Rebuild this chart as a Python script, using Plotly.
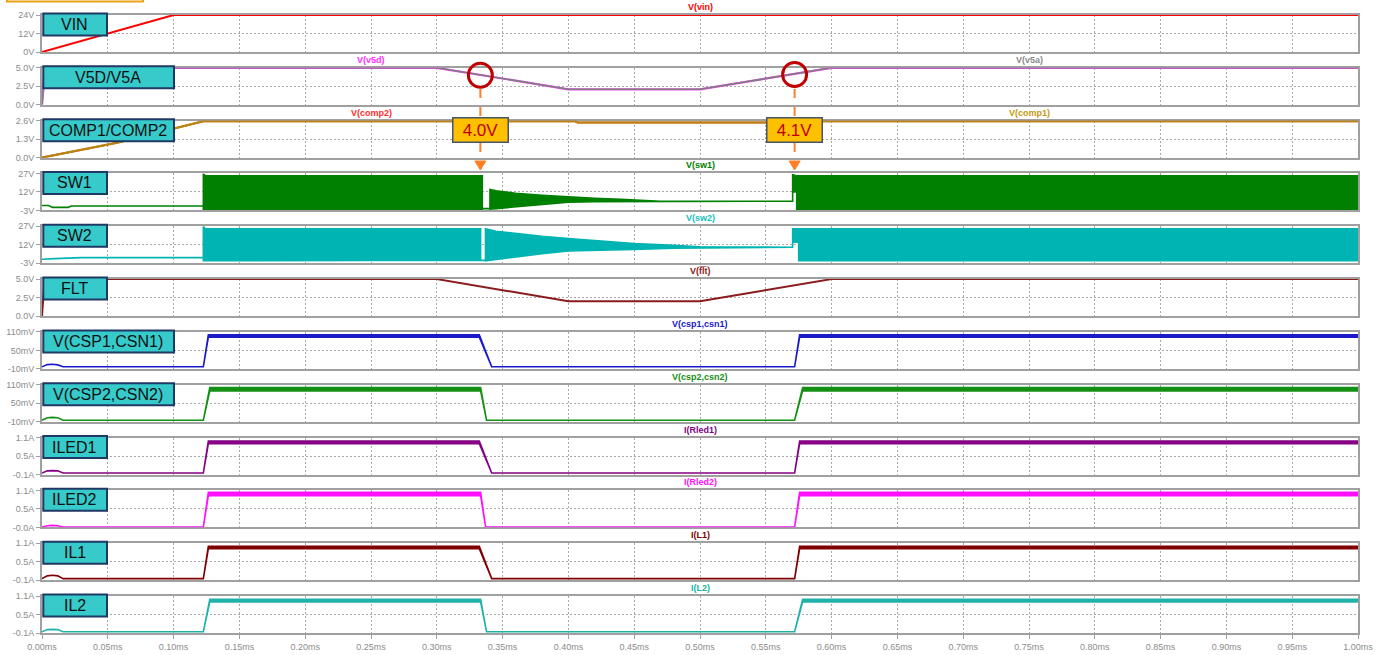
import plotly.graph_objects as go

# ---------------- data (time in ms) ----------------
vin_t = [0.0, 0.1, 1.0]
vin_v = [0.0, 24.0, 24.0]

v5d_t = [0.0, 0.002, 0.30, 0.40, 0.50, 0.60, 1.0]
v5d_v = [0.0, 5.0, 5.0, 2.1, 2.1, 5.0, 5.0]
v5a_t = [0.0, 0.003, 0.30, 0.40, 0.50, 0.60, 1.0]
v5a_v = [0.0, 5.0, 5.0, 2.1, 2.1, 5.0, 5.0]

comp_t = [0.0, 0.057, 0.1225, 0.405, 0.407, 0.57, 0.572, 1.0]
comp1_v = [0.0, 1.05, 2.55, 2.55, 2.47, 2.47, 2.55, 2.55]
comp2_v = [0.0, 1.05, 2.55, 2.55, 2.47, 2.47, 2.55, 2.55]

# switching nodes: upper / lower envelope of the switching band
sw1_t = [0.0, 0.005, 0.008, 0.02, 0.022, 0.1226, 0.1226, 0.124, 0.3346, 0.3346, 0.3404, 0.3404,
         0.345, 0.36, 0.38, 0.40, 0.42, 0.44, 0.46, 0.47, 0.5704, 0.5704, 0.5735, 0.5735, 1.0]
sw1_hi = [1.0, 1.0, -0.5, -0.5, 0.6, 0.6, 27.0, 25.0, 25.0, -1.5, -1.5, 14.0,
          13.0, 11.0, 9.3, 7.8, 6.8, 6.0, 5.2, 4.5, 4.5, 26.0, 25.0, 25.0, 25.0]
sw1_lo = [1.0, 1.0, -0.5, -0.5, 0.6, 0.6, -2.0, -2.0, -2.0, -1.5, -1.5, -2.0,
          -1.5, 0.0, 2.0, 3.7, 4.0, 4.2, 4.3, 4.5, 4.5, 12.0, 12.0, -2.0, -2.0]

sw2_t = [0.0, 0.005, 0.01, 0.03, 0.1226, 0.1226, 0.124, 0.3333, 0.3333, 0.337, 0.337,
         0.345, 0.36, 0.38, 0.40, 0.42, 0.45, 0.48, 0.50, 0.5704, 0.5704, 0.575, 0.575, 1.0]
sw2_hi = [0.3, 0.3, 0.8, 1.6, 1.6, 27.0, 25.0, 25.0, -0.5, -0.5, 25.0,
          23.0, 21.0, 18.8, 17.0, 15.5, 13.0, 11.6, 10.3, 10.0, 25.0, 25.0, 25.0, 25.0]
sw2_lo = [0.3, 0.3, 0.8, 1.6, 1.6, -1.0, -1.0, -1.0, -0.5, -0.5, -1.0,
          0.0, 2.0, 4.8, 6.9, 7.8, 8.3, 9.3, 9.8, 10.0, 14.0, 14.0, -1.0, -1.0]

flt_t = [0.0, 0.002, 0.30, 0.40, 0.50, 0.60, 1.0]
flt_v = [0.0, 5.0, 5.0, 2.0, 2.0, 5.0, 5.0]

csp1_t = [0.0, 0.004, 0.008, 0.012, 0.016, 0.1226, 0.1264, 0.3323, 0.3417, 0.5719, 0.5757, 1.0]
csp1_hi = [-3, 4, 5, 3, -3, -3, 101, 101, -3, -3, 101, 101]
csp1_lo = [-3, 4, 5, 3, -3, -3, 93, 93, -3, -3, 93, 93]

csp2_t = [0.0, 0.004, 0.008, 0.012, 0.016, 0.1226, 0.1275, 0.3333, 0.3378, 0.5719, 0.578, 1.0]
csp2_hi = [-5, 3, 4, 3, -5, -5, 101, 101, -5, -5, 101, 101]
csp2_lo = [-5, 3, 4, 3, -5, -5, 90, 90, -5, -5, 90, 90]

iled1_t = [0.0, 0.004, 0.008, 0.012, 0.016, 0.1226, 0.1264, 0.3323, 0.3417, 0.5719, 0.5757, 1.0]
iled1_hi = [-0.05, 0.02, 0.03, 0.02, -0.05, -0.05, 0.99, 0.99, -0.05, -0.05, 0.99, 0.99]
iled1_lo = [-0.05, 0.02, 0.03, 0.02, -0.05, -0.05, 0.9, 0.9, -0.05, -0.05, 0.9, 0.9]

iled2_t = [0.0, 0.004, 0.008, 0.012, 0.016, 0.1226, 0.1264, 0.3333, 0.3371, 0.5719, 0.5757, 1.0]
iled2_hi = [-0.04, 0.0, 0.01, 0.0, -0.04, -0.04, 0.99, 0.99, -0.04, -0.04, 0.99, 0.99]
iled2_lo = [-0.04, 0.0, 0.01, 0.0, -0.04, -0.04, 0.89, 0.89, -0.04, -0.04, 0.89, 0.89]

il1_t = [0.0, 0.004, 0.008, 0.012, 0.016, 0.1226, 0.1264, 0.3323, 0.3417, 0.5719, 0.5757, 1.0]
il1_hi = [-0.05, 0.04, 0.06, 0.04, -0.05, -0.05, 1.0, 1.0, -0.05, -0.05, 1.0, 1.0]
il1_lo = [-0.05, 0.04, 0.06, 0.04, -0.05, -0.05, 0.92, 0.92, -0.05, -0.05, 0.92, 0.92]

il2_t = [0.0, 0.004, 0.008, 0.012, 0.016, 0.1226, 0.1275, 0.3333, 0.3378, 0.5719, 0.578, 1.0]
il2_hi = [-0.06, 0.01, 0.02, 0.01, -0.06, -0.06, 0.99, 0.99, -0.06, -0.06, 0.99, 0.99]
il2_lo = [-0.06, 0.01, 0.02, 0.01, -0.06, -0.06, 0.91, 0.91, -0.06, -0.06, 0.91, 0.91]

# threshold markers on V5D
mark_t = [0.3331, 0.5719]
mark_v = [4.0, 4.1]

# tick labels
x_tick_vals = [round(0.05 * k, 2) for k in range(21)]
x_tick_text = ["%.2fms" % v for v in x_tick_vals]
vin_ticks = ([0, 12, 24], ["0V", "12V", "24V"])
v5_ticks = ([0, 2.5, 5], ["0.0V", "2.5V", "5.0V"])
comp_ticks = ([0, 1.3, 2.6], ["0.0V", "1.3V", "2.6V"])
sw_ticks = ([-3, 12, 27], ["-3V", "12V", "27V"])
csp_ticks = ([-10, 50, 110], ["-10mV", "50mV", "110mV"])
ia_ticks = ([-0.1, 0.5, 1.1], ["-0.1A", "0.5A", "1.1A"])
ib_ticks = ([-0.05, 0.5, 1.05], ["-0.0A", "0.5A", "1.1A"])

panel_names = ["VIN", "V5D/V5A", "COMP1/COMP2", "SW1", "SW2", "FLT", "V(CSP1,CSN1)",
               "V(CSP2,CSN2)", "ILED1", "ILED2", "IL1", "IL2"]
panel_ticks = [vin_ticks, v5_ticks, comp_ticks, sw_ticks, sw_ticks, v5_ticks, csp_ticks,
               csp_ticks, ia_ticks, ib_ticks, ia_ticks, ia_ticks]
wide_box = [False, True, True, False, False, False, True, True, False, False, False, False]

# ---------------- geometry ----------------
W, H = 1379, 655
PLOT_TOP = 15
ML, MR, MT, MB = 42, 21, PLOT_TOP, 22
PH = H - MT - MB
PW = W - ML - MR
PANEL_H = 37
STEP = (PH - PANEL_H) / 11


def dom(i):
    y1 = 1 - i * STEP / PH
    return [y1 - PANEL_H / PH, y1]


def py(pix):
    return 1 - (pix - PLOT_TOP) / PH


def ax(i):
    return ("x", "y") if i == 0 else ("x%d" % (i + 1), "y%d" % (i + 1))


fig = go.Figure()


def add_line(i, t, v, color, width=2.0):
    xa, ya = ax(i)
    fig.add_trace(go.Scatter(x=t, y=v, mode="lines", line=dict(color=color, width=width),
                             xaxis=xa, yaxis=ya, showlegend=False, hoverinfo="skip"))


def add_band(i, t, hi, lo, color, width=1.6):
    xa, ya = ax(i)
    xs = list(t) + list(t)[::-1]
    ys = list(hi) + list(lo)[::-1]
    fig.add_trace(go.Scatter(x=xs, y=ys, mode="lines", fill="toself", fillcolor=color,
                             line=dict(color=color, width=width),
                             xaxis=xa, yaxis=ya, showlegend=False, hoverinfo="skip"))


add_line(0, vin_t, vin_v, "#FF0000")
add_line(1, v5d_t, v5d_v, "#FF40FF", 2.2)
add_line(1, v5a_t, v5a_v, "#7E7E7E", 1.6)
add_line(2, comp_t, comp2_v, "#E05020", 2.0)
add_line(2, comp_t, comp1_v, "#B8860B", 2.0)
add_band(3, sw1_t, sw1_hi, sw1_lo, "#008000")
add_band(4, sw2_t, sw2_hi, sw2_lo, "#00B4B4")
add_line(5, flt_t, flt_v, "#8B1A1A")
add_band(6, csp1_t, csp1_hi, csp1_lo, "#1A1AC8")
add_band(7, csp2_t, csp2_hi, csp2_lo, "#159015")
add_band(8, iled1_t, iled1_hi, iled1_lo, "#850085")
add_band(9, iled2_t, iled2_hi, iled2_lo, "#FF10FF")
add_band(10, il1_t, il1_hi, il1_lo, "#800000")
add_band(11, il2_t, il2_hi, il2_lo, "#20B2AA")

# circles marking the thresholds
fig.add_trace(go.Scatter(x=mark_t, y=mark_v, mode="markers", xaxis="x2", yaxis="y2",
                         marker=dict(symbol="circle-open", size=24,
                                     line=dict(width=3, color="#C00000"), color="#C00000"),
                         cliponaxis=False, showlegend=False, hoverinfo="skip"))

# ---------------- axes ----------------
grid = dict(showgrid=True, gridcolor="#A8A8A8", gridwidth=1, griddash="2px,2px")
frame = dict(showline=True, mirror=True, linecolor="#A0A0A0", linewidth=2, zeroline=False,
             layer="below traces", automargin=False)
tickfont = dict(family="Liberation Sans", size=9, color="#8C8C8C")

layout = {}
for i in range(12):
    n = "" if i == 0 else str(i + 1)
    last = i == 11
    layout["xaxis" + n] = dict(domain=[0, 1], anchor="y" + n, range=[0, 1.0],
                               tickvals=x_tick_vals, ticktext=x_tick_text,
                               showticklabels=last, ticks="outside" if last else "",
                               ticklen=4, tickcolor="#A0A0A0", tickfont=tickfont,
                               **grid, **frame)
    tv, tt = panel_ticks[i]
    layout["yaxis" + n] = dict(domain=dom(i), anchor="x" + n, range=[tv[0], tv[-1]],
                               tickvals=tv, ticktext=tt, ticks="outside", ticklen=4,
                               tickcolor="#A0A0A0", tickfont=tickfont, **grid, **frame)

shapes = []
annotations = []

# name boxes
for i, name in enumerate(panel_names):
    n = "" if i == 0 else str(i + 1)
    wpx = 132 if wide_box[i] else 65
    y1 = 1 + 1.5 / PANEL_H
    y0 = y1 - 22 / PANEL_H
    shapes.append(dict(type="rect", xref="paper", yref="y%s domain" % n,
                       x0=0.001, x1=wpx / PW, y0=y0, y1=y1,
                       fillcolor="#36CACA", line=dict(color="#1F3864", width=2), layer="above"))
    annotations.append(dict(xref="paper", yref="y%s domain" % n, x=(wpx / 2) / PW,
                            y=(y0 + y1) / 2, text=name, showarrow=False,
                            font=dict(family="Liberation Sans", size=16, color="#111111"),
                            xanchor="center", yanchor="middle"))

# trace names above panels
trace_labels = [
    (0, "V(vin)", 0.5, "#FF0000"),
    (1, "V(v5d)", 0.25, "#FF30FF"), (1, "V(v5a)", 0.75, "#8A8A8A"),
    (2, "V(comp2)", 0.25, "#FF3030"), (2, "V(comp1)", 0.75, "#C49A10"),
    (3, "V(sw1)", 0.5, "#008000"),
    (4, "V(sw2)", 0.5, "#20C0C0"),
    (5, "V(f\u0305l\u0305t\u0305)", 0.5, "#8B1A1A"),
    (6, "V(csp1,csn1)", 0.5, "#1A1AC8"),
    (7, "V(csp2,csn2)", 0.5, "#159015"),
    (8, "I(Rled1)", 0.5, "#850085"),
    (9, "I(Rled2)", 0.5, "#FF10FF"),
    (10, "I(L1)", 0.5, "#800000"),
    (11, "I(L2)", 0.5, "#20B2AA"),
]
for i, txt, tx, col in trace_labels:
    n = "" if i == 0 else str(i + 1)
    annotations.append(dict(xref="x" + n, yref="y%s domain" % n, x=tx, y=1, yshift=1,
                            text="<b>%s</b>" % txt, showarrow=False, xanchor="center",
                            yanchor="bottom",
                            font=dict(family="Liberation Sans", size=9, color=col)))

# threshold callouts
for t, v in zip(mark_t, mark_v):
    shapes.append(dict(type="line", xref="x", yref="paper", x0=t, x1=t,
                       y0=py(89), y1=py(162), line=dict(color="#FF7F27", width=2, dash="dash"),
                       layer="above"))
    hw = 5.5 / PW
    shapes.append(dict(type="path", xref="x", yref="paper",
                       path="M %f,%f L %f,%f L %f,%f Z" % (t - hw, py(161), t + hw, py(161), t, py(170)),
                       fillcolor="#FF7F27", line=dict(color="#FF7F27", width=1), layer="above"))
    annotations.append(dict(xref="x3", yref="y3 domain", x=t, y=0.76,
                            text="%.1fV" % v, showarrow=False, xanchor="center", yanchor="middle",
                            bgcolor="#FFC000", bordercolor="#44546A", borderwidth=1.5, borderpad=2,
                            width=50, height=19,
                            font=dict(family="Liberation Sans", size=17, color="#C00000")))

# partially visible box at the very top-left
shapes.append(dict(type="rect", xref="paper", yref="paper", x0=(7 - ML) / PW, x1=(143 - ML) / PW,
                   y0=py(1.5), y1=py(-20), line=dict(color="#E8A317", width=2), layer="above"))

fig.update_layout(width=W, height=H, margin=dict(l=ML, r=MR, t=MT, b=MB, autoexpand=False),
                  paper_bgcolor="white", plot_bgcolor="white", showlegend=False,
                  shapes=shapes, annotations=annotations, **layout)

# remove the default 8px page margin so the figure fills the window exactly
fig.write_html("out.html", config={"displayModeBar": False},
               post_script="document.body.style.margin='0px';document.body.style.overflow='hidden';")
